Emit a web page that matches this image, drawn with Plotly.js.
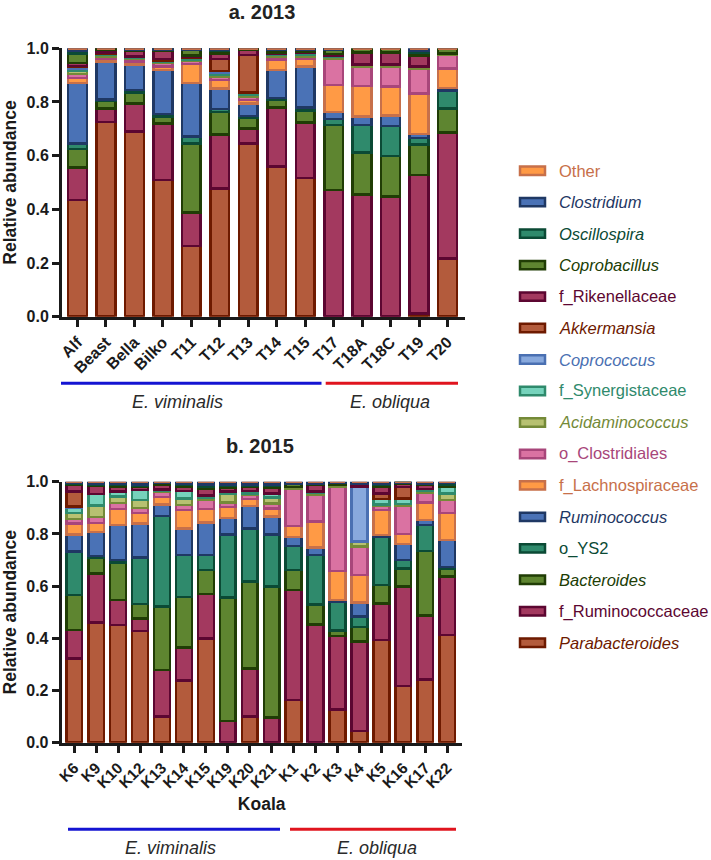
<!DOCTYPE html>
<html>
<head>
<meta charset="utf-8">
<script src="https://cdn.plot.ly/plotly-3.0.1.min.js"></script>
<style>html,body{margin:0;padding:0;background:#fff;}#chart{width:711px;height:860px;}</style>
</head>
<body>
<div id="chart"></div>
<script>
// ---------- categories ----------
const samples2013 = ["Alf","Beast","Bella","Bilko","T11","T12","T13","T14","T15","T17","T18A","T18C","T19","T20"];
const samples2015 = ["K6","K9","K10","K12","K13","K14","K15","K19","K20","K21","K1","K2","K3","K4","K5","K16","K17","K22"];

// taxa, stacking order bottom -> top (legend shows top -> bottom)
const taxa = ["Parabacteroides","f_Ruminococcaceae","Bacteroides","o_YS2","Ruminococcus","f_Lachnospiraceae",
  "o_Clostridiales","Acidaminococcus","f_Synergistaceae","Coprococcus","Akkermansia","f_Rikenellaceae",
  "Coprobacillus","Oscillospira","Clostridium","Other"];
const italicTaxa = ["Parabacteroides","Bacteroides","Ruminococcus","Acidaminococcus","Coprococcus","Akkermansia",
  "Coprobacillus","Oscillospira","Clostridium"];

// ---------- 2013 relative abundance (per taxon, one value per sample) ----------
const y13_Parabacteroides   = [0.435,0.725,0.69,0.51,0.263,0.478,0.645,0.559,0.516,0,0,0,0.012,0.217];
const y13_fRuminococcaceae  = [0.12,0.05,0.105,0.21,0.125,0.2,0.057,0.221,0.207,0.472,0.456,0.447,0.516,0.469];
const y13_Bacteroides       = [0.07,0.03,0.04,0.025,0.258,0.085,0.038,0.03,0.045,0.243,0.155,0.152,0.114,0.09];
const y13_oYS2              = [0.02,0.005,0.01,0.01,0.025,0.01,0.008,0.005,0.012,0.022,0.103,0.112,0.023,0.067];
const y13_Ruminococcus      = [0.225,0.14,0.095,0.165,0.2,0.078,0.047,0.104,0.152,0.026,0.031,0.038,0.016,0.01];
const y13_fLachnospiraceae  = [0.02,0.01,0.01,0.012,0.07,0.03,0.013,0.04,0.028,0.1,0.114,0.108,0.151,0.072];
const y13_oClostridiales    = [0.015,0.01,0.01,0.013,0.012,0.012,0.012,0.011,0.01,0.097,0.073,0.075,0.093,0.05];
const y13_Acidaminococcus   = [0.01,0.005,0.005,0.005,0.005,0.01,0.008,0.005,0.007,0.008,0.008,0.008,0.008,0.005];
const y13_fSynergistaceae   = [0.01,0.005,0.005,0.005,0.005,0.007,0.007,0.005,0.005,0.005,0,0,0,0];
const y13_Coprococcus       = [0.005,0,0,0,0,0.005,0,0,0,0,0,0,0,0];
const y13_Akkermansia       = [0.005,0.005,0,0.005,0.005,0.045,0.14,0,0,0,0,0,0,0];
const y13_fRikenellaceae    = [0.01,0.01,0.02,0.03,0.005,0.02,0.02,0.005,0.005,0.005,0.045,0.045,0.04,0];
const y13_Coprobacillus     = [0.035,0.005,0.005,0.005,0.022,0.01,0.005,0.008,0.008,0.017,0.015,0.015,0.012,0.02];
const y13_Oscillospira      = [0.01,0,0,0,0,0.005,0,0.002,0,0,0,0,0.005,0];
const y13_Clostridium       = [0.01,0,0.005,0.005,0.005,0.005,0,0.005,0.005,0.005,0,0,0.01,0];
const y13_Other             = [0,0,0,0,0,0,0,0,0,0,0,0,0,0];

// ---------- 2015 relative abundance ----------
const y15_Parabacteroides   = [0.323,0.46,0.451,0.428,0.1,0.238,0.4,0,0.1,0,0.163,0,0.128,0.045,0.393,0.217,0.243,0.413];
const y15_fRuminococcaceae  = [0.109,0.189,0.096,0.048,0.178,0.127,0.17,0.083,0.185,0.096,0.422,0.453,0.281,0.342,0.141,0.381,0.244,0.223];
const y15_Bacteroides       = [0.134,0.061,0.143,0.055,0.243,0.194,0.092,0.473,0.332,0.502,0.077,0.077,0.02,0.057,0.07,0.07,0.247,0.032];
const y15_oYS2              = [0.166,0.005,0.01,0.179,0.347,0.16,0.057,0.242,0.204,0.2,0.091,0.19,0.111,0.039,0.185,0.032,0.1,0.006];
const y15_Ruminococcus      = [0.066,0.093,0.134,0.13,0.045,0.102,0.125,0.062,0.086,0.068,0.036,0.028,0.006,0.055,0.006,0.061,0.02,0.102];
const y15_fLachnospiraceae  = [0.042,0.034,0.062,0.04,0.029,0.07,0.051,0.044,0.027,0.031,0.042,0.099,0.112,0.104,0.096,0.039,0.066,0.105];
const y15_oClostridiales    = [0.018,0.022,0.022,0.02,0.018,0.019,0.037,0.016,0.016,0.02,0.143,0.104,0.323,0.109,0.017,0.107,0.037,0.049];
const y15_Acidaminococcus   = [0.022,0.044,0.025,0.03,0.005,0.025,0.005,0.032,0.005,0.023,0.006,0.006,0.007,0.02,0.005,0.008,0.008,0.025];
const y15_fSynergistaceae   = [0.02,0.045,0.02,0.038,0.005,0.03,0.01,0.01,0.01,0.015,0,0.005,0,0,0.02,0.02,0.008,0.027];
const y15_Coprococcus       = [0.005,0,0,0,0,0,0,0,0,0,0,0,0,0.21,0,0,0,0];
const y15_Akkermansia       = [0.057,0,0,0,0,0,0,0,0,0,0,0,0,0,0.022,0.045,0,0];
const y15_fRikenellaceae    = [0.025,0.03,0.017,0.012,0.02,0.015,0.025,0.015,0.015,0.02,0,0.025,0,0.012,0.025,0.012,0.015,0];
const y15_Coprobacillus     = [0.005,0.005,0.008,0.005,0.005,0.008,0.008,0.008,0.005,0.008,0.012,0.005,0.007,0,0.008,0.004,0.006,0.005];
const y15_Oscillospira      = [0.003,0.005,0.004,0.005,0,0.004,0.01,0.005,0.005,0.007,0,0,0,0,0.005,0,0,0.008];
const y15_Clostridium       = [0.005,0.007,0.008,0.01,0.005,0.008,0.01,0.01,0.01,0.01,0.008,0.008,0.005,0.007,0.007,0.004,0.006,0.005];
const y15_Other             = [0,0,0,0,0,0,0,0,0,0,0,0,0,0,0,0,0,0];

// group labels
const groupNames = ["E. viminalis","E. obliqua"];

const series2013 = [y13_Parabacteroides,y13_fRuminococcaceae,y13_Bacteroides,y13_oYS2,y13_Ruminococcus,y13_fLachnospiraceae,
  y13_oClostridiales,y13_Acidaminococcus,y13_fSynergistaceae,y13_Coprococcus,y13_Akkermansia,y13_fRikenellaceae,
  y13_Coprobacillus,y13_Oscillospira,y13_Clostridium,y13_Other];
const series2015 = [y15_Parabacteroides,y15_fRuminococcaceae,y15_Bacteroides,y15_oYS2,y15_Ruminococcus,y15_fLachnospiraceae,
  y15_oClostridiales,y15_Acidaminococcus,y15_fSynergistaceae,y15_Coprococcus,y15_Akkermansia,y15_fRikenellaceae,
  y15_Coprobacillus,y15_Oscillospira,y15_Clostridium,y15_Other];

// ---------- styles ----------
const fills   = ["#B35B3C","#A3395F","#5E8530","#2F8A6C","#4A72B6","#FF9A45","#DA72A2","#B7C171","#76D3BC","#88A9DD",
                 "#B35B3C","#A3395F","#5E8530","#2F8A6C","#4A72B6","#FF9A45"];
const borders = ["#6E1A00","#5C0631","#203D05","#0B4A35","#1F3864","#C7704A","#A8467A","#748A38","#2F8A6C","#4A70B2",
                 "#6E1A00","#5C0631","#203D05","#0B4A35","#1F3864","#C7704A"];
const FONT = "Arial, 'Liberation Sans', sans-serif";
const W = 711, H = 860;
const px = v => v / W;
const py = v => 1 - v / H;

const traces = [];
taxa.forEach((t, i) => {
  traces.push({type:"bar", x: samples2013, y: series2013[i], name: t, xaxis:"x", yaxis:"y", width:0.66,
    marker:{color: fills[i], line:{color: borders[i], width:2.5}}, showlegend:false, hoverinfo:"name+y"});
  traces.push({type:"bar", x: samples2015, y: series2015[i], name: t, xaxis:"x2", yaxis:"y2", width:0.72,
    marker:{color: fills[i], line:{color: borders[i], width:2.5}}, showlegend:false, hoverinfo:"name+y"});
});

const tickFont = {family: FONT, size: 16, color: "#1a1a1a", weight: "bold"};
const axisCommon = {showline:true, linewidth:3, linecolor:"#1a1a1a", ticks:"outside", ticklen:7, tickwidth:3,
  tickcolor:"#1a1a1a", showgrid:false, zeroline:false, fixedrange:true};

const shapes = [];
const annotations = [];

// group lines and labels
function group(x0, x1, y, color) {
  shapes.push({type:"line", xref:"paper", yref:"paper", x0:px(x0), x1:px(x1), y0:py(y), y1:py(y),
    line:{color: color, width:3}});
}
function glabel(text, x, y) {
  annotations.push({text:"<i>"+text+"</i>", xref:"paper", yref:"paper", x:px(x), y:py(y), xanchor:"center", yanchor:"middle",
    showarrow:false, font:{family: FONT, size:18, color:"#2a2a2a"}});
}
group(61, 321.5, 383.3, "#1414D2"); group(325.7, 458, 383.3, "#E0141E");
glabel(groupNames[0], 177, 401.7); glabel(groupNames[1], 390, 401.7);
group(68, 280, 829.3, "#1414D2"); group(290, 456, 829.3, "#E0141E");
glabel(groupNames[0], 170, 848); glabel(groupNames[1], 377, 848);

// panel b title
annotations.push({text:"<b>b. 2015</b>", xref:"paper", yref:"paper", x:px(260), y:py(446), xanchor:"center", yanchor:"middle",
  showarrow:false, font:{family: FONT, size:20, color:"#222"}});

// legend (top -> bottom = reverse stacking order)
const legendOrder = taxa.slice().reverse();
legendOrder.forEach((t, k) => {
  const i = taxa.indexOf(t);
  const yc = 170.7 + k * 31.47;
  shapes.push({type:"rect", xref:"paper", yref:"paper", x0:px(520), x1:px(545), y0:py(yc-4.2), y1:py(yc+4.2),
    fillcolor: fills[i], line:{color: borders[i], width:2.5}});
  const label = italicTaxa.includes(t) ? "<i>"+t+"</i>" : t;
  annotations.push({text: label, xref:"paper", yref:"paper", x:px(557), y:py(yc), xanchor:"left", yanchor:"middle",
    showarrow:false, font:{family: FONT, size:16.5, color: borders[i]}});
});

const layout = {
  width: W, height: H, margin:{l:0, r:0, t:0, b:0}, paper_bgcolor:"#fff", plot_bgcolor:"#fff",
  barmode:"stack", showlegend:false,
  title:{text:"<b>a. 2013</b>", x:px(262), xanchor:"center", y:py(12), yanchor:"middle", font:{family: FONT, size:20, color:"#222"}},
  xaxis: Object.assign({}, axisCommon, {domain:[px(62), px(465)], anchor:"y", type:"category", range:[-0.545, 13.615],
    tickangle:-45, tickfont: tickFont}),
  yaxis: Object.assign({}, axisCommon, {domain:[py(316.7), py(48.3)], anchor:"x", range:[0,1], dtick:0.2, tick0:0,
    tickformat:".1f", tickfont: tickFont,
    title:{text:"<b>Relative abundance</b>", font:{family: FONT, size:17.5, color:"#1a1a1a"}, standoff:6}}),
  xaxis2: Object.assign({}, axisCommon, {domain:[px(61.7), px(461.7)], anchor:"y2", type:"category", range:[-0.57, 17.66],
    tickangle:-45, tickfont: Object.assign({}, tickFont, {size:15.5}),
    title:{text:"<b>Koala</b>", font:{family: FONT, size:17.5, color:"#1a1a1a"}, standoff:8}}),
  yaxis2: Object.assign({}, axisCommon, {domain:[py(742.7), py(481.7)], anchor:"x2", range:[0,1], dtick:0.2, tick0:0,
    tickformat:".1f", tickfont: tickFont,
    title:{text:"<b>Relative abundance</b>", font:{family: FONT, size:17.5, color:"#1a1a1a"}, standoff:6}}),
  shapes: shapes, annotations: annotations
};

Plotly.newPlot("chart", traces, layout, {displayModeBar:false, staticPlot:true});
</script>
</body>
</html>
